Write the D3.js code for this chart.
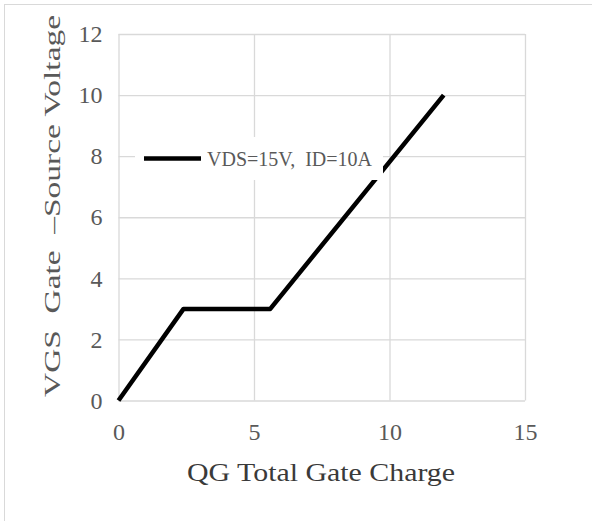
<!DOCTYPE html>
<html>
<head>
<meta charset="utf-8">
<script src="https://cdn.jsdelivr.net/npm/d3@7"></script>
<style>
  html, body { margin: 0; padding: 0; background: #fff; }
  svg { display: block; }
  text { font-family: "Liberation Serif", "DejaVu Serif", serif; white-space: pre; }
</style>
</head>
<body>
<script>
// Gate charge curve: total gate charge (nC) against gate-source voltage (V)
const charge = [0, 2.4, 5.6, 12];
const vgs = [0, 3, 3, 10];
const xTicks = [0, 5, 10, 15];
const yTicks = [0, 2, 4, 6, 8, 10, 12];
const seriesLabel = "VDS=15V,  ID=10A";
const xTitle = "QG Total Gate Charge";
const yTitle = "VGS  Gate  \u2013Source Voltage";

const W = 592, H = 521;
const plot = { left: 118.5, right: 525, top: 34, bottom: 400.5 };

const svg = d3.select("body").append("svg")
  .attr("width", W).attr("height", H);

// outer frame
svg.append("rect")
  .attr("x", 4.5).attr("y", 4.5)
  .attr("width", W + 10).attr("height", H + 10)
  .attr("fill", "#fff").attr("stroke", "#d9d9d9").attr("stroke-width", 1);

const x = d3.scaleLinear().domain([0, 15]).range([plot.left, plot.right]);
const y = d3.scaleLinear().domain([0, 12]).range([plot.bottom, plot.top]);

const grid = "#d9d9d9";
const tickColor = "#595959";
const titleColor = "#3a3a3a";

// vertical gridlines with bottom tick labels
const xAxis = svg.append("g")
  .attr("transform", `translate(0,${plot.bottom})`)
  .call(d3.axisBottom(x).tickValues(xTicks).tickSize(-(plot.bottom - plot.top))
    .tickPadding(22).tickFormat(d3.format("d")));
xAxis.select(".domain").remove();
xAxis.selectAll("line").attr("stroke", grid).attr("stroke-width", 1.3);
xAxis.selectAll("text")
  .attr("fill", tickColor).attr("font-size", 24)
  .attr("font-family", "Liberation Serif");

// horizontal gridlines with left tick labels
const yAxis = svg.append("g")
  .attr("transform", `translate(${plot.left},0)`)
  .call(d3.axisLeft(y).tickValues(yTicks).tickSize(-(plot.right - plot.left))
    .tickPadding(16).tickFormat(d3.format("d")));
yAxis.select(".domain").remove();
yAxis.selectAll("line").attr("stroke", grid).attr("stroke-width", 1.3);
yAxis.selectAll("text")
  .attr("fill", tickColor).attr("font-size", 24)
  .attr("font-family", "Liberation Serif");

// series line
const pts = charge.map((c, i) => [c, vgs[i]]);
svg.append("path")
  .datum(pts)
  .attr("fill", "none")
  .attr("stroke", "#000")
  .attr("stroke-width", 4.5)
  .attr("stroke-linejoin", "round")
  .attr("stroke-linecap", "butt")
  .attr("d", d3.line().x(d => x(d[0])).y(d => y(d[1])));

// legend, on a white box over the grid
const legend = svg.append("g");
legend.append("rect")
  .attr("x", 135).attr("y", 137).attr("width", 248).attr("height", 43)
  .attr("fill", "#fff");
legend.append("line")
  .attr("x1", 144).attr("x2", 201).attr("y1", 158.5).attr("y2", 158.5)
  .attr("stroke", "#000").attr("stroke-width", 4.5);
legend.append("text")
  .attr("x", 207).attr("y", 165.5)
  .attr("fill", tickColor).attr("font-size", 21)
  .attr("textLength", 165).attr("lengthAdjust", "spacingAndGlyphs")
  .text(seriesLabel);

// axis titles
svg.append("text")
  .attr("x", 187).attr("y", 481)
  .attr("fill", titleColor).attr("font-size", 26)
  .attr("textLength", 268).attr("lengthAdjust", "spacingAndGlyphs")
  .text(xTitle);

svg.append("text")
  .attr("transform", "translate(60,397) rotate(-90)")
  .attr("x", 0).attr("y", 0)
  .attr("fill", tickColor).attr("font-size", 24)
  .attr("textLength", 382).attr("lengthAdjust", "spacingAndGlyphs")
  .text(yTitle);
</script>
</body>
</html>
